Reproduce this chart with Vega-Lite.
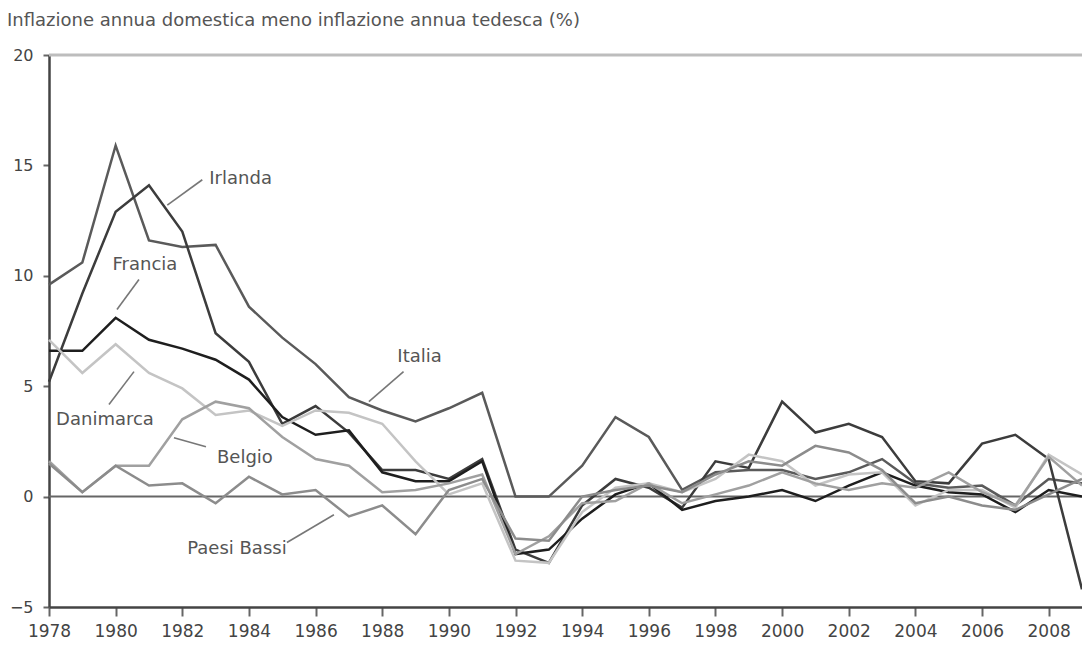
{
  "$schema": "https://vega.github.io/schema/vega-lite/v6.json",
  "width": 1033,
  "height": 552,
  "autosize": "none",
  "padding": {"left": 49, "top": 55, "right": 0, "bottom": 39},
  "background": "white",
  "title": {
    "text": "Inflazione annua domestica meno inflazione annua tedesca (%)",
    "anchor": "start",
    "frame": "group",
    "dx": -42,
    "offset": 17,
    "font": "DejaVu Sans",
    "fontSize": 18,
    "fontWeight": "normal",
    "color": "#555555"
  },
  "config": {
    "view": {"stroke": null},
    "font": "DejaVu Sans"
  },
  "datasets": {
    "series": [
      {"year":1978,"country":"Italia","value":9.6},{"year":1979,"country":"Italia","value":10.6},{"year":1980,"country":"Italia","value":15.9},{"year":1981,"country":"Italia","value":11.6},{"year":1982,"country":"Italia","value":11.3},{"year":1983,"country":"Italia","value":11.4},{"year":1984,"country":"Italia","value":8.6},{"year":1985,"country":"Italia","value":7.2},{"year":1986,"country":"Italia","value":6.0},{"year":1987,"country":"Italia","value":4.5},{"year":1988,"country":"Italia","value":3.9},{"year":1989,"country":"Italia","value":3.4},{"year":1990,"country":"Italia","value":4.0},{"year":1991,"country":"Italia","value":4.7},{"year":1992,"country":"Italia","value":0.0},{"year":1993,"country":"Italia","value":0.0},{"year":1994,"country":"Italia","value":1.4},{"year":1995,"country":"Italia","value":3.6},{"year":1996,"country":"Italia","value":2.7},{"year":1997,"country":"Italia","value":0.3},{"year":1998,"country":"Italia","value":1.1},{"year":1999,"country":"Italia","value":1.2},{"year":2000,"country":"Italia","value":1.2},{"year":2001,"country":"Italia","value":0.8},{"year":2002,"country":"Italia","value":1.1},{"year":2003,"country":"Italia","value":1.7},{"year":2004,"country":"Italia","value":0.6},{"year":2005,"country":"Italia","value":0.4},{"year":2006,"country":"Italia","value":0.5},{"year":2007,"country":"Italia","value":-0.4},{"year":2008,"country":"Italia","value":0.8},{"year":2009,"country":"Italia","value":0.6},
      {"year":1978,"country":"Irlanda","value":5.2},{"year":1979,"country":"Irlanda","value":9.2},{"year":1980,"country":"Irlanda","value":12.9},{"year":1981,"country":"Irlanda","value":14.1},{"year":1982,"country":"Irlanda","value":12.0},{"year":1983,"country":"Irlanda","value":7.4},{"year":1984,"country":"Irlanda","value":6.1},{"year":1985,"country":"Irlanda","value":3.3},{"year":1986,"country":"Irlanda","value":4.1},{"year":1987,"country":"Irlanda","value":2.9},{"year":1988,"country":"Irlanda","value":1.2},{"year":1989,"country":"Irlanda","value":1.2},{"year":1990,"country":"Irlanda","value":0.8},{"year":1991,"country":"Irlanda","value":1.7},{"year":1992,"country":"Irlanda","value":-2.4},{"year":1993,"country":"Irlanda","value":-3.0},{"year":1994,"country":"Irlanda","value":-0.4},{"year":1995,"country":"Irlanda","value":0.8},{"year":1996,"country":"Irlanda","value":0.4},{"year":1997,"country":"Irlanda","value":-0.5},{"year":1998,"country":"Irlanda","value":1.6},{"year":1999,"country":"Irlanda","value":1.3},{"year":2000,"country":"Irlanda","value":4.3},{"year":2001,"country":"Irlanda","value":2.9},{"year":2002,"country":"Irlanda","value":3.3},{"year":2003,"country":"Irlanda","value":2.7},{"year":2004,"country":"Irlanda","value":0.7},{"year":2005,"country":"Irlanda","value":0.6},{"year":2006,"country":"Irlanda","value":2.4},{"year":2007,"country":"Irlanda","value":2.8},{"year":2008,"country":"Irlanda","value":1.7},{"year":2009,"country":"Irlanda","value":-4.2},
      {"year":1978,"country":"Francia","value":6.6},{"year":1979,"country":"Francia","value":6.6},{"year":1980,"country":"Francia","value":8.1},{"year":1981,"country":"Francia","value":7.1},{"year":1982,"country":"Francia","value":6.7},{"year":1983,"country":"Francia","value":6.2},{"year":1984,"country":"Francia","value":5.3},{"year":1985,"country":"Francia","value":3.6},{"year":1986,"country":"Francia","value":2.8},{"year":1987,"country":"Francia","value":3.0},{"year":1988,"country":"Francia","value":1.1},{"year":1989,"country":"Francia","value":0.7},{"year":1990,"country":"Francia","value":0.7},{"year":1991,"country":"Francia","value":1.6},{"year":1992,"country":"Francia","value":-2.6},{"year":1993,"country":"Francia","value":-2.4},{"year":1994,"country":"Francia","value":-1.0},{"year":1995,"country":"Francia","value":0.1},{"year":1996,"country":"Francia","value":0.6},{"year":1997,"country":"Francia","value":-0.6},{"year":1998,"country":"Francia","value":-0.2},{"year":1999,"country":"Francia","value":0.0},{"year":2000,"country":"Francia","value":0.3},{"year":2001,"country":"Francia","value":-0.2},{"year":2002,"country":"Francia","value":0.5},{"year":2003,"country":"Francia","value":1.1},{"year":2004,"country":"Francia","value":0.5},{"year":2005,"country":"Francia","value":0.2},{"year":2006,"country":"Francia","value":0.1},{"year":2007,"country":"Francia","value":-0.7},{"year":2008,"country":"Francia","value":0.3},{"year":2009,"country":"Francia","value":0.0},
      {"year":1978,"country":"Danimarca","value":7.1},{"year":1979,"country":"Danimarca","value":5.6},{"year":1980,"country":"Danimarca","value":6.9},{"year":1981,"country":"Danimarca","value":5.6},{"year":1982,"country":"Danimarca","value":4.9},{"year":1983,"country":"Danimarca","value":3.7},{"year":1984,"country":"Danimarca","value":3.9},{"year":1985,"country":"Danimarca","value":3.2},{"year":1986,"country":"Danimarca","value":3.9},{"year":1987,"country":"Danimarca","value":3.8},{"year":1988,"country":"Danimarca","value":3.3},{"year":1989,"country":"Danimarca","value":1.6},{"year":1990,"country":"Danimarca","value":0.1},{"year":1991,"country":"Danimarca","value":0.6},{"year":1992,"country":"Danimarca","value":-2.9},{"year":1993,"country":"Danimarca","value":-3.0},{"year":1994,"country":"Danimarca","value":-0.7},{"year":1995,"country":"Danimarca","value":0.4},{"year":1996,"country":"Danimarca","value":0.6},{"year":1997,"country":"Danimarca","value":0.2},{"year":1998,"country":"Danimarca","value":0.8},{"year":1999,"country":"Danimarca","value":1.9},{"year":2000,"country":"Danimarca","value":1.6},{"year":2001,"country":"Danimarca","value":0.5},{"year":2002,"country":"Danimarca","value":1.0},{"year":2003,"country":"Danimarca","value":1.1},{"year":2004,"country":"Danimarca","value":-0.4},{"year":2005,"country":"Danimarca","value":0.3},{"year":2006,"country":"Danimarca","value":0.3},{"year":2007,"country":"Danimarca","value":-0.5},{"year":2008,"country":"Danimarca","value":1.9},{"year":2009,"country":"Danimarca","value":1.0},
      {"year":1978,"country":"Belgio","value":1.6},{"year":1979,"country":"Belgio","value":0.2},{"year":1980,"country":"Belgio","value":1.4},{"year":1981,"country":"Belgio","value":1.4},{"year":1982,"country":"Belgio","value":3.5},{"year":1983,"country":"Belgio","value":4.3},{"year":1984,"country":"Belgio","value":4.0},{"year":1985,"country":"Belgio","value":2.7},{"year":1986,"country":"Belgio","value":1.7},{"year":1987,"country":"Belgio","value":1.4},{"year":1988,"country":"Belgio","value":0.2},{"year":1989,"country":"Belgio","value":0.3},{"year":1990,"country":"Belgio","value":0.6},{"year":1991,"country":"Belgio","value":1.0},{"year":1992,"country":"Belgio","value":-2.6},{"year":1993,"country":"Belgio","value":-1.8},{"year":1994,"country":"Belgio","value":-0.3},{"year":1995,"country":"Belgio","value":-0.2},{"year":1996,"country":"Belgio","value":0.6},{"year":1997,"country":"Belgio","value":-0.3},{"year":1998,"country":"Belgio","value":0.1},{"year":1999,"country":"Belgio","value":0.5},{"year":2000,"country":"Belgio","value":1.1},{"year":2001,"country":"Belgio","value":0.6},{"year":2002,"country":"Belgio","value":0.3},{"year":2003,"country":"Belgio","value":0.6},{"year":2004,"country":"Belgio","value":0.4},{"year":2005,"country":"Belgio","value":1.1},{"year":2006,"country":"Belgio","value":0.2},{"year":2007,"country":"Belgio","value":-0.4},{"year":2008,"country":"Belgio","value":1.8},{"year":2009,"country":"Belgio","value":0.5},
      {"year":1978,"country":"Paesi Bassi","value":1.5},{"year":1979,"country":"Paesi Bassi","value":0.2},{"year":1980,"country":"Paesi Bassi","value":1.4},{"year":1981,"country":"Paesi Bassi","value":0.5},{"year":1982,"country":"Paesi Bassi","value":0.6},{"year":1983,"country":"Paesi Bassi","value":-0.3},{"year":1984,"country":"Paesi Bassi","value":0.9},{"year":1985,"country":"Paesi Bassi","value":0.1},{"year":1986,"country":"Paesi Bassi","value":0.3},{"year":1987,"country":"Paesi Bassi","value":-0.9},{"year":1988,"country":"Paesi Bassi","value":-0.4},{"year":1989,"country":"Paesi Bassi","value":-1.7},{"year":1990,"country":"Paesi Bassi","value":0.3},{"year":1991,"country":"Paesi Bassi","value":0.8},{"year":1992,"country":"Paesi Bassi","value":-1.9},{"year":1993,"country":"Paesi Bassi","value":-2.0},{"year":1994,"country":"Paesi Bassi","value":0.0},{"year":1995,"country":"Paesi Bassi","value":0.3},{"year":1996,"country":"Paesi Bassi","value":0.5},{"year":1997,"country":"Paesi Bassi","value":0.2},{"year":1998,"country":"Paesi Bassi","value":1.0},{"year":1999,"country":"Paesi Bassi","value":1.6},{"year":2000,"country":"Paesi Bassi","value":1.4},{"year":2001,"country":"Paesi Bassi","value":2.3},{"year":2002,"country":"Paesi Bassi","value":2.0},{"year":2003,"country":"Paesi Bassi","value":1.2},{"year":2004,"country":"Paesi Bassi","value":-0.3},{"year":2005,"country":"Paesi Bassi","value":0.0},{"year":2006,"country":"Paesi Bassi","value":-0.4},{"year":2007,"country":"Paesi Bassi","value":-0.6},{"year":2008,"country":"Paesi Bassi","value":0.1},{"year":2009,"country":"Paesi Bassi","value":0.8}
    ],
    "labels": [
      {"country":"Irlanda","tx":1983.75,"ty":14.4,"x1":1981.55,"y1":13.2,"x2":1982.6,"y2":14.35},
      {"country":"Francia","tx":1980.88,"ty":10.5,"x1":1980.04,"y1":8.47,"x2":1980.7,"y2":9.83},
      {"country":"Italia","tx":1989.12,"ty":6.3,"x1":1987.6,"y1":4.3,"x2":1988.64,"y2":5.66},
      {"country":"Danimarca","tx":1979.68,"ty":3.49,"x1":1979.8,"y1":4.17,"x2":1980.55,"y2":5.66},
      {"country":"Belgio","tx":1983.88,"ty":1.77,"x1":1981.75,"y1":2.67,"x2":1982.71,"y2":2.26},
      {"country":"Paesi Bassi","tx":1983.64,"ty":-2.36,"x1":1985.14,"y1":-2.08,"x2":1986.55,"y2":-0.82}
    ]
  },
  "layer": [
    {
      "data": {"values": [{"y": 20}]},
      "mark": {"type": "rule", "color": "#bdbdbd", "strokeWidth": 3},
      "encoding": {"y": {"field": "y", "type": "quantitative", "scale": {"domain": [-5, 20]}}}
    },
    {
      "data": {"values": [{"y": 0}]},
      "mark": {"type": "rule", "color": "#666666", "strokeWidth": 2},
      "encoding": {"y": {"field": "y", "type": "quantitative"}}
    },
    {
      "data": {"name": "series"},
      "mark": {"type": "line", "strokeWidth": 2.5, "strokeJoin": "miter"},
      "encoding": {
        "x": {
          "field": "year", "type": "quantitative",
          "scale": {"domain": [1978, 2009], "nice": false, "zero": false},
          "axis": {
            "title": null,
            "values": [1978,1979,1980,1981,1982,1983,1984,1985,1986,1987,1988,1989,1990,1991,1992,1993,1994,1995,1996,1997,1998,1999,2000,2001,2002,2003,2004,2005,2006,2007,2008,2009],
            "format": "d",
            "labelExpr": "datum.value % 2 === 0 ? datum.label : ''",
            "labelFlush": false,
            "labelOverlap": false,
            "grid": false,
            "domainColor": "#444444",
            "domainWidth": 2.5,
            "tickColor": "#666666",
            "tickWidth": 2,
            "tickSize": 9,
            "labelPadding": 7,
            "labelFont": "DejaVu Sans",
            "labelFontSize": 17,
            "labelColor": "#444444"
          }
        },
        "y": {
          "field": "value", "type": "quantitative",
          "scale": {"domain": [-5, 20], "nice": false},
          "axis": {
            "title": null,
            "values": [-5, 0, 5, 10, 15, 20],
            "grid": false,
            "domainColor": "#444444",
            "domainWidth": 2.5,
            "tickColor": "#666666",
            "tickWidth": 2,
            "tickSize": 6,
            "labelPadding": 10,
            "labelFont": "DejaVu Sans",
            "labelFontSize": 16,
            "labelColor": "#444444",
            "labelFlush": false
          }
        },
        "color": {
          "field": "country", "type": "nominal",
          "scale": {
            "domain": ["Danimarca", "Paesi Bassi", "Belgio", "Italia", "Irlanda", "Francia"],
            "range": ["#c4c4c4", "#8c8c8c", "#a0a0a0", "#5a5a5a", "#3c3c3c", "#1e1e1e"]
          },
          "legend": null
        }
      }
    },
    {
      "data": {"name": "labels"},
      "mark": {"type": "rule", "color": "#777777", "strokeWidth": 1.6},
      "encoding": {
        "x": {"field": "x1", "type": "quantitative"},
        "y": {"field": "y1", "type": "quantitative"},
        "x2": {"field": "x2"},
        "y2": {"field": "y2"}
      }
    },
    {
      "data": {"name": "labels"},
      "mark": {"type": "text", "font": "DejaVu Sans", "fontSize": 18, "color": "#555555", "align": "center", "baseline": "middle"},
      "encoding": {
        "x": {"field": "tx", "type": "quantitative"},
        "y": {"field": "ty", "type": "quantitative"},
        "text": {"field": "country"}
      }
    }
  ]
}
